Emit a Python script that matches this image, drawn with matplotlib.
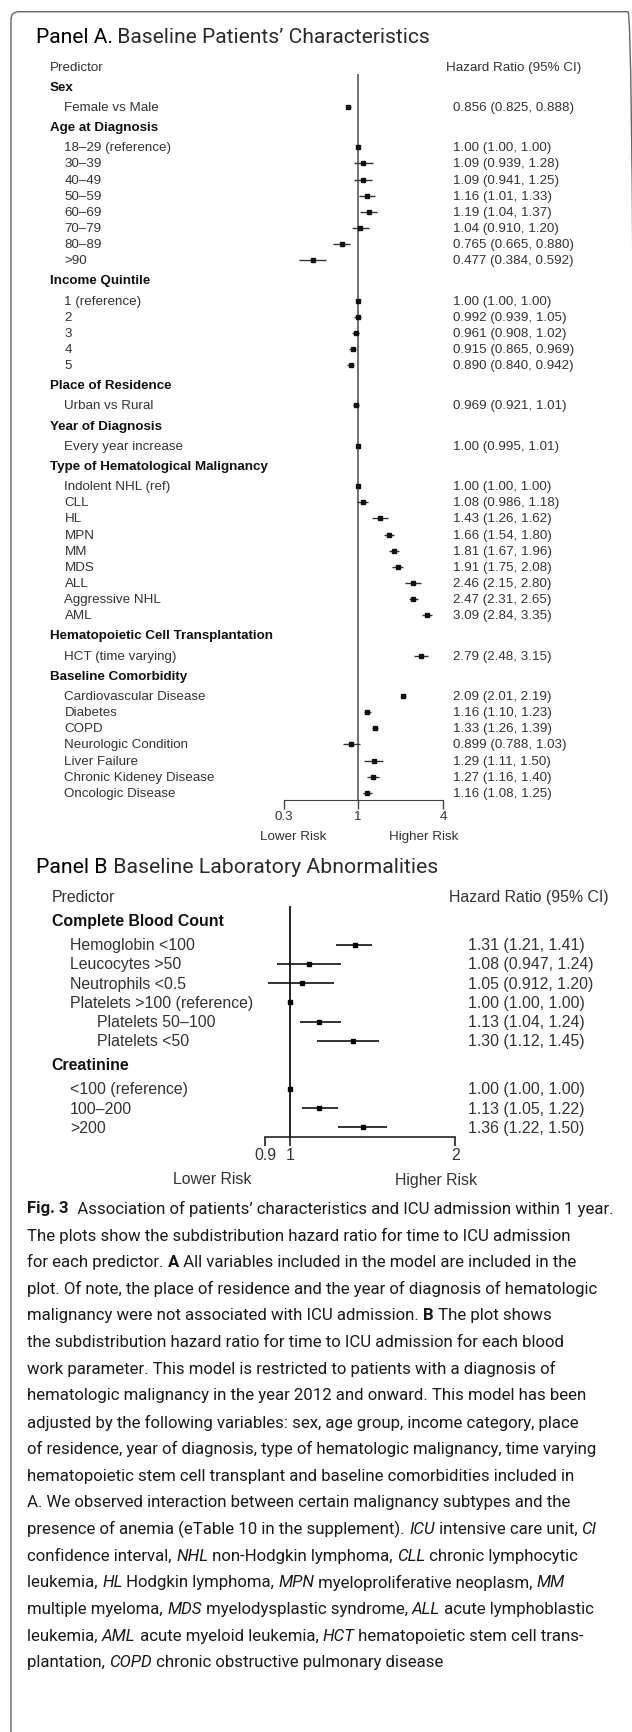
import re
import numpy as np
import matplotlib
matplotlib.use('Agg')
import matplotlib.pyplot as plt
from matplotlib import transforms
from matplotlib.patches import FancyBboxPatch
from matplotlib.ticker import NullLocator

W, H, DPI = 632, 1733, 100

# ---- Panel A data ----
a_groups = ["Sex", "Age at Diagnosis", "Income Quintile", "Place of Residence",
            "Year of Diagnosis", "Type of Hematological Malignancy",
            "Hematopoietic Cell Transplantation", "Baseline Comorbidity"]
a_sizes = [1, 8, 5, 1, 1, 9, 1, 7]
a_labels = ["Female vs Male",
            "18\u201329 (reference)", "30\u201339", "40\u201349", "50\u201359",
            "60\u201369", "70\u201379", "80\u201389", ">90",
            "1 (reference)", "2", "3", "4", "5",
            "Urban vs Rural",
            "Every year increase",
            "Indolent NHL (ref)", "CLL", "HL", "MPN", "MM", "MDS", "ALL",
            "Aggressive NHL", "AML",
            "HCT (time varying)",
            "Cardiovascular Disease", "Diabetes", "COPD", "Neurologic Condition",
            "Liver Failure", "Chronic Kideney Disease", "Oncologic Disease"]
a_hr = [0.856,
        1.00, 1.09, 1.09, 1.16, 1.19, 1.04, 0.765, 0.477,
        1.00, 0.992, 0.961, 0.915, 0.890,
        0.969,
        1.00,
        1.00, 1.08, 1.43, 1.66, 1.81, 1.91, 2.46, 2.47, 3.09,
        2.79,
        2.09, 1.16, 1.33, 0.899, 1.29, 1.27, 1.16]
a_lo = [0.825,
        1.00, 0.939, 0.941, 1.01, 1.04, 0.910, 0.665, 0.384,
        1.00, 0.939, 0.908, 0.865, 0.840,
        0.921,
        0.995,
        1.00, 0.986, 1.26, 1.54, 1.67, 1.75, 2.15, 2.31, 2.84,
        2.48,
        2.01, 1.10, 1.26, 0.788, 1.11, 1.16, 1.08]
a_hi = [0.888,
        1.00, 1.28, 1.25, 1.33, 1.37, 1.20, 0.880, 0.592,
        1.00, 1.05, 1.02, 0.969, 0.942,
        1.01,
        1.01,
        1.00, 1.18, 1.62, 1.80, 1.96, 2.08, 2.80, 2.65, 3.35,
        3.15,
        2.19, 1.23, 1.39, 1.03, 1.50, 1.40, 1.25]
a_ticks = [0.3, 1, 4]
a_ticklabels = ["0.3", "1", "4"]

# ---- Panel B data ----
b_groups = ["Complete Blood Count", "Creatinine"]
b_sizes = [6, 3]
b_labels = ["Hemoglobin <100", "Leucocytes >50", "Neutrophils <0.5",
            "Platelets >100 (reference)", "Platelets 50\u2013100", "Platelets <50",
            "<100 (reference)", "100\u2013200", ">200"]
b_sub = [0, 0, 0, 0, 1, 1, 0, 0, 0]
b_hr = [1.31, 1.08, 1.05, 1.00, 1.13, 1.30, 1.00, 1.13, 1.36]
b_lo = [1.21, 0.947, 0.912, 1.00, 1.04, 1.12, 1.00, 1.05, 1.22]
b_hi = [1.41, 1.24, 1.20, 1.00, 1.24, 1.45, 1.00, 1.22, 1.50]
b_ticks = [0.9, 1, 2]
b_ticklabels = ["0.9", "1", "2"]

caption = [
    "**Fig. 3**  Association of patients\u2019 characteristics and ICU admission within 1 year.",
    "The plots show the subdistribution hazard ratio for time to ICU admission",
    "for each predictor. **A** All variables included in the model are included in the",
    "plot. Of note, the place of residence and the year of diagnosis of hematologic",
    "malignancy were not associated with ICU admission. **B** The plot shows",
    "the subdistribution hazard ratio for time to ICU admission for each blood",
    "work parameter. This model is restricted to patients with a diagnosis of",
    "hematologic malignancy in the year 2012 and onward. This model has been",
    "adjusted by the following variables: sex, age group, income category, place",
    "of residence, year of diagnosis, type of hematologic malignancy, time varying",
    "hematopoietic stem cell transplant and baseline comorbidities included in",
    "A. We observed interaction between certain malignancy subtypes and the",
    "presence of anemia (eTable 10 in the supplement). *ICU* intensive care unit, *CI*",
    "confidence interval, *NHL* non-Hodgkin lymphoma, *CLL* chronic lymphocytic",
    "leukemia, *HL* Hodgkin lymphoma, *MPN* myeloproliferative neoplasm, *MM*",
    "multiple myeloma, *MDS* myelodysplastic syndrome, *ALL* acute lymphoblastic",
    "leukemia, *AML* acute myeloid leukemia, *HCT* hematopoietic stem cell trans-",
    "plantation, *COPD* chronic obstructive pulmonary disease",
]

plt.rcParams['font.family'] = ['Liberation Sans', 'DejaVu Sans']

fig = plt.figure(figsize=(W / DPI, H / DPI), dpi=DPI)
renderer = fig.canvas.get_renderer()


def fx(px):
    return px / W


def fy(px):
    return 1 - px / H


def layout_rows(sizes):
    # group headers and items, header gaps are 1.25 rows
    heads, items = [], []
    y = 0.0
    for k, n in enumerate(sizes):
        if k > 0:
            y += 1.25
        heads.append(y)
        y += 1.25
        for i in range(n):
            if i > 0:
                y += 1
            items.append(y)
    return heads, items


def forest_axes(top, bottom, one_px, px_per_ln, row_px, zero_px):
    ax = fig.add_axes([0, fy(bottom), 1, (bottom - top) / H])
    ax.set_xscale('log')
    ax.set_xlim(np.exp(-one_px / px_per_ln), np.exp((W - one_px) / px_per_ln))
    ax.set_ylim((bottom - zero_px) / row_px, (top - zero_px) / row_px)
    ax.patch.set_visible(False)
    for s in ['top', 'left', 'right']:
        ax.spines[s].set_visible(False)
    ax.set_yticks([])
    ax.xaxis.set_minor_locator(NullLocator())
    return ax


def text_width(s, **kw):
    t1 = fig.text(0, 0, s + '|', **kw)
    t2 = fig.text(0, 0, '|', **kw)
    w = t1.get_window_extent(renderer).width - t2.get_window_extent(renderer).width
    t1.remove()
    t2.remove()
    return w


def parse(line):
    out = []
    for p in re.split(r'(\*\*.+?\*\*|\*.+?\*)', line):
        if not p:
            continue
        if p.startswith('**'):
            out.append((p[2:-2], 'normal', 'bold', None))
        elif p.startswith('*'):
            out.append((p[1:-1], 'italic', 'normal', None))
        else:
            out.append((p, 'normal', 'normal', None))
    return out


def rich_width(segs, size, family):
    return sum(text_width(s, fontsize=size, family=family, style=st, weight=wt)
               for s, st, wt, c in segs)


def rich_text(x_px, y_px, segs, size, family, color):
    x = x_px
    for s, st, wt, c in segs:
        fig.text(fx(x), fy(y_px), s, fontsize=size, family=family, style=st,
                 weight=wt, color=c or color, ha='left', va='center')
        x += text_width(s, fontsize=size, family=family, style=st, weight=wt)


def ci_text(h, l, u):
    return f"{h:#.3g} ({l:#.3g}, {u:#.3g})"


# ---------------- Panel A ----------------
fs_a = 9.65
ax_a = forest_axes(55, 850, 358, 61.3, 16.14, 87.7)
tr_a = transforms.blended_transform_factory(fig.transFigure, ax_a.transData)
heads_a, items_a = layout_rows(a_sizes)
axis_a = (801 - 87.7) / 16.14

ax_a.text(fx(49.6), -1.25, "Predictor", transform=tr_a, fontsize=fs_a,
          color='#333', va='center')
ax_a.text(fx(445.6), -1.25, "Hazard Ratio (95% CI)", transform=tr_a,
          fontsize=fs_a, color='#333', va='center')
for g, y in zip(a_groups, heads_a):
    ax_a.text(fx(49.6), y, g, transform=tr_a, fontsize=fs_a, weight='bold',
              color='#111', va='center')
for lab, y, h, l, u in zip(a_labels, items_a, a_hr, a_lo, a_hi):
    ax_a.text(fx(64.5), y, lab, transform=tr_a, fontsize=fs_a, color='#333',
              va='center')
    ax_a.text(fx(452.8), y, ci_text(h, l, u), transform=tr_a, fontsize=fs_a,
              color='#333', va='center')

ax_a.vlines(1, -0.79, axis_a, color='#666', lw=1.3)
ax_a.hlines(items_a, a_lo, a_hi, color='#333', lw=1.0)
ax_a.plot(a_hr, items_a, 's', ms=2.7, color='#111', ls='none')

ax_a.spines['bottom'].set_position(('data', axis_a))
ax_a.spines['bottom'].set_bounds(a_ticks[0], a_ticks[-1])
ax_a.spines['bottom'].set_color('#444')
ax_a.set_xticks(a_ticks)
ax_a.set_xticklabels(a_ticklabels)
ax_a.tick_params(axis='x', length=6.5, width=1, color='#444', labelsize=fs_a,
                 labelcolor='#333', pad=1)
risk_a = (837.3 - 87.7) / 16.14
ax_a.text(fx(293), risk_a, "Lower Risk", transform=tr_a, fontsize=fs_a,
          color='#333', ha='center', va='center')
ax_a.text(fx(424), risk_a, "Higher Risk", transform=tr_a, fontsize=fs_a,
          color='#333', ha='center', va='center')

# ---------------- Panel B ----------------
fs_b = 11.45
ax_b = forest_axes(885, 1195, 290.3, 238, 19.22, 921.7)
tr_b = transforms.blended_transform_factory(fig.transFigure, ax_b.transData)
heads_b, items_b = layout_rows(b_sizes)
axis_b = (1137.7 - 921.7) / 19.22

ax_b.text(fx(51.6), -1.25, "Predictor", transform=tr_b, fontsize=fs_b,
          color='#333', va='center')
ax_b.text(fx(448.8), -1.25, "Hazard Ratio (95% CI)", transform=tr_b,
          fontsize=fs_b, color='#333', va='center')
for g, y in zip(b_groups, heads_b):
    ax_b.text(fx(51.6), y, g, transform=tr_b, fontsize=fs_b, weight='bold',
              color='#111', va='center')
for lab, sub, y, h, l, u in zip(b_labels, b_sub, items_b, b_hr, b_lo, b_hi):
    ax_b.text(fx(96.8 if sub else 69.8), y, lab, transform=tr_b, fontsize=fs_b,
              color='#333', va='center')
    ax_b.text(fx(467.7), y, ci_text(h, l, u), transform=tr_b, fontsize=fs_b,
              color='#333', va='center')

ax_b.vlines(1, -0.78, axis_b, color='#111', lw=1.3)
ax_b.hlines(items_b, b_lo, b_hi, color='#111', lw=1.2)
ax_b.plot(b_hr, items_b, 's', ms=3.2, color='#000', ls='none')

ax_b.spines['bottom'].set_position(('data', axis_b))
ax_b.spines['bottom'].set_bounds(b_ticks[0], b_ticks[-1])
ax_b.spines['bottom'].set_color('#222')
ax_b.spines['bottom'].set_linewidth(1.2)
ax_b.set_xticks(b_ticks)
ax_b.set_xticklabels(b_ticklabels)
ax_b.tick_params(axis='x', length=6.5, width=1.2, color='#222', labelsize=fs_b,
                 labelcolor='#333', pad=1)
risk_b = (1180 - 921.7) / 19.22
ax_b.text(fx(212.6), risk_b, "Lower Risk", transform=tr_b, fontsize=fs_b,
          color='#333', ha='center', va='center')
ax_b.text(fx(436), risk_b, "Higher Risk", transform=tr_b, fontsize=fs_b,
          color='#333', ha='center', va='center')

# ---------------- titles ----------------
title_font = 'Roboto'
title_a = [("Panel A.", 'normal', 'normal', '#000'),
           (" Baseline Patients\u2019 Characteristics", 'normal', 'normal', '#2a2a2a')]
title_b = [("Panel B", 'normal', 'normal', '#000'),
           (" Baseline Laboratory Abnormalities", 'normal', 'normal', '#2a2a2a')]
for segs, x0, y0, target in [(title_a, 35.5, 37.7, 395), (title_b, 36.3, 867.3, 401)]:
    size = 10 * target / rich_width(segs, 10, title_font)
    rich_text(x0, y0, segs, size, title_font, '#111')

# ---------------- caption ----------------
cap_font = 'Roboto'
cap_lines = [parse(line) for line in caption]
cap_size = 10 * 590 / rich_width(cap_lines[0], 10, cap_font)
for i, segs in enumerate(cap_lines):
    rich_text(27.4, 1209 + i * 26.7, segs, cap_size, cap_font, '#1a1a1a')

# ---------------- frame ----------------
frame = FancyBboxPatch((11, -50), 625, H - 12.7 + 50,
                       boxstyle='round,pad=0,rounding_size=8',
                       transform=transforms.IdentityTransform(),
                       fill=False, ec='#666', lw=1.0)
fig.add_artist(frame)

fig.savefig('out.png', dpi=DPI)
